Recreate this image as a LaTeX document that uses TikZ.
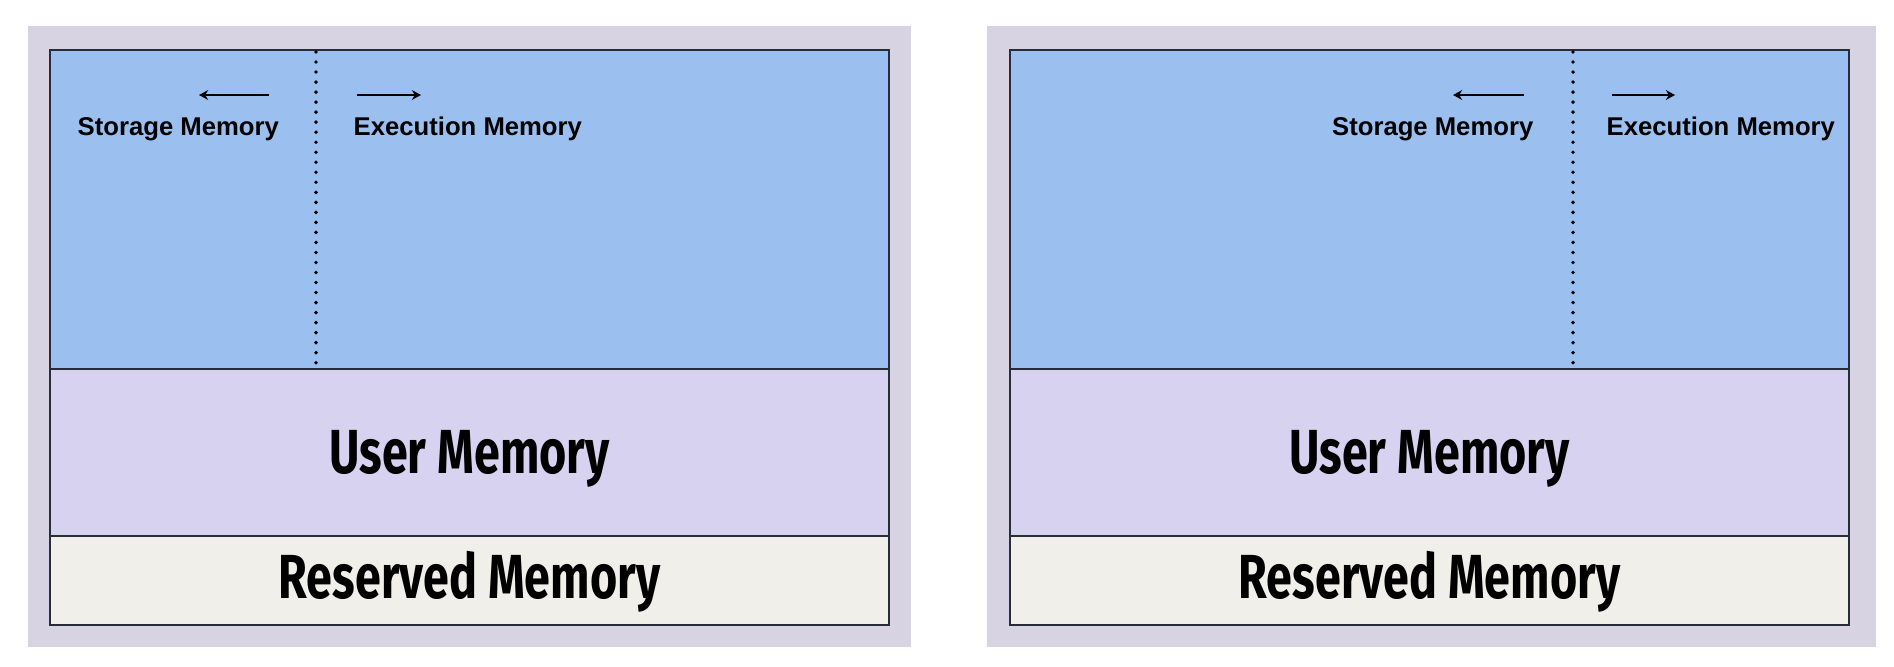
\documentclass[tikz,border=0pt]{standalone}
\usepackage{fontspec}
\setmainfont{Liberation Sans}
\newfontfamily\handfont{Fira Sans}
\usetikzlibrary{arrows.meta,positioning}
\definecolor{panelbg}{RGB}{216,211,226}
\definecolor{execblue}{RGB}{155,191,238}
\definecolor{userlilac}{RGB}{215,210,240}
\definecolor{reservedgrey}{RGB}{240,239,233}
\definecolor{rimline}{RGB}{40,44,56}
\tikzset{
  smalllabel/.style={font=\bfseries\fontsize{7.3}{8}\selectfont, inner sep=0, anchor=base west},
  biglabel/.style={font=\handfont\bfseries\fontsize{17.7}{20}\selectfont, inner sep=0, anchor=base},
  growarrow/.style={-{Stealth[length=2.6pt,width=2.8pt]}, line width=0.45pt},
  divider/.style={line width=1.1pt, line cap=round, dash pattern=on 0pt off 2.85pt},
}
\begin{document}
\begin{tikzpicture}[x=0.01cm,y=-0.01cm]
    \useasboundingbox (0,0) rectangle (1894,666);
    \fill[panelbg] (28,26) rectangle (911,647);
    \fill[panelbg] (987,26) rectangle (1876,647);
    \begin{scope}[draw=rimline, line width=0.45pt]
      \filldraw[fill=execblue]     (50,50)  rectangle (889,369);
      \filldraw[fill=userlilac]    (50,369) rectangle (889,536);
      \filldraw[fill=reservedgrey] (50,536) rectangle (889,625);
      \filldraw[fill=execblue]     (1010,50)  rectangle (1849,369);
      \filldraw[fill=userlilac]    (1010,369) rectangle (1849,536);
      \filldraw[fill=reservedgrey] (1010,536) rectangle (1849,625);
    \end{scope}
    \draw[divider] (316,52) -- (316,366);
    \draw[divider] (1573,52) -- (1573,366);
    \node[smalllabel] (lstore) at (77,135) {Storage Memory};
    \node[smalllabel] (lexec) at (353,135) {Execution Memory};
    \node[smalllabel, anchor=base east] (rstore) at (1534,135) {Storage Memory};
    \node[smalllabel] (rexec) at (1606,135) {Execution Memory};
    \coordinate (lstorefrom) at (269,95);
    \coordinate (lstoreto) at (199,95);
    \coordinate (lexecfrom) at (357,95);
    \coordinate (lexecto) at (421,95);
    \coordinate (rstorefrom) at (1524,95);
    \coordinate (rstoreto) at (1453,95);
    \coordinate (rexecfrom) at (1612,95);
    \coordinate (rexecto) at (1675,95);
    \draw[growarrow] (lstorefrom) -- (lstoreto);
    \draw[growarrow] (lexecfrom) -- (lexecto);
    \draw[growarrow] (rstorefrom) -- (rstoreto);
    \draw[growarrow] (rexecfrom) -- (rexecto);
    \node[biglabel] (luser) at (469.5,473) {\scalebox{0.75}[1]{User Memory}};
    \node[biglabel] (lreserved) at (469.5,598) {\scalebox{0.75}[1]{Reserved Memory}};
    \node[biglabel] (ruser) at (1429.5,473) {\scalebox{0.75}[1]{User Memory}};
    \node[biglabel] (rreserved) at (1429.5,598) {\scalebox{0.75}[1]{Reserved Memory}};
\end{tikzpicture}
\end{document}
